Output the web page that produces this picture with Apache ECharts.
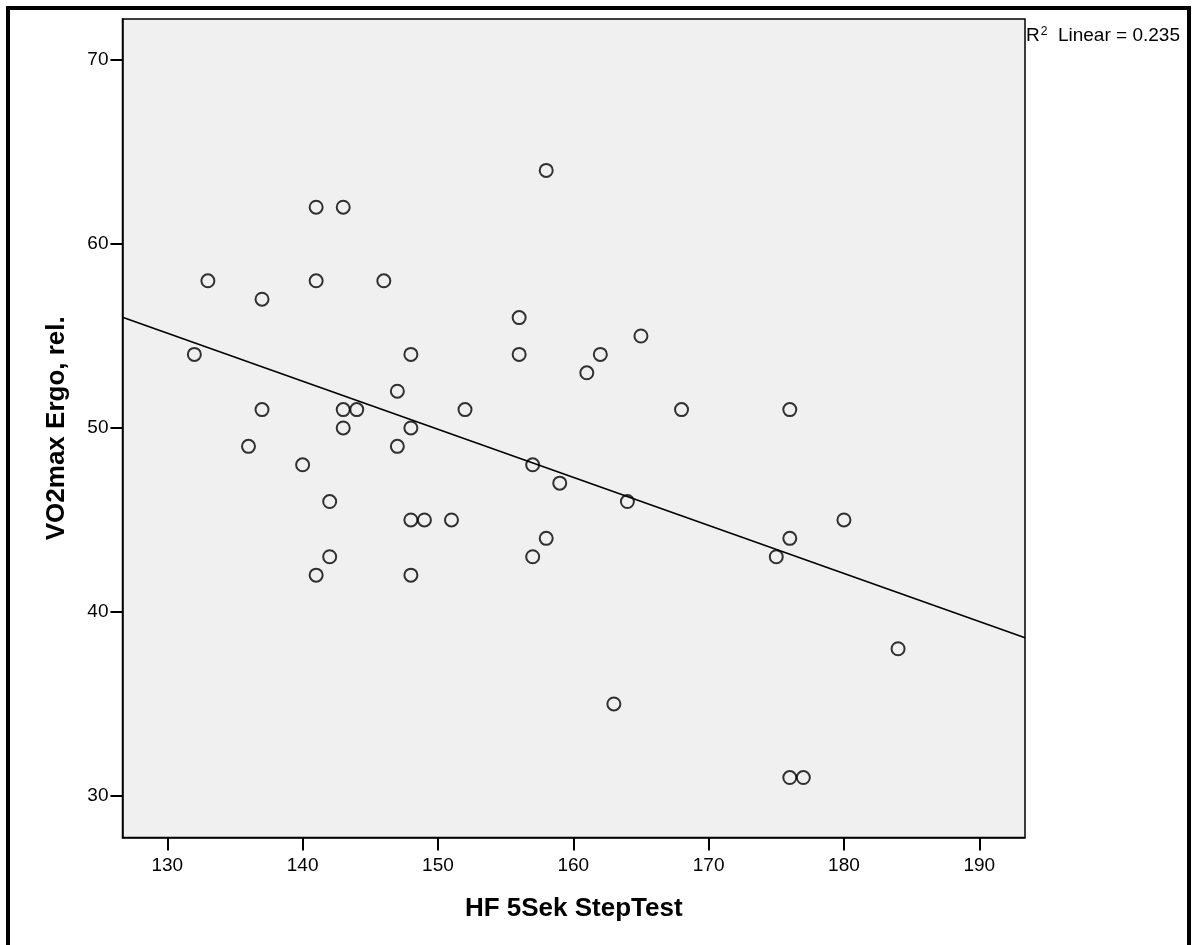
<!DOCTYPE html>
<html>
<head>
<meta charset="utf-8">
<script src="https://cdn.jsdelivr.net/npm/echarts@6/dist/echarts.min.js"></script>
<style>
html,body{margin:0;padding:0;background:#fff;}
#chart{width:1192px;height:945px;}
</style>
</head>
<body>
<div id="chart"></div>
<script>
// HF 5Sek StepTest (x) vs VO2max Ergo, rel. (y)
const hfValues = [141,143,133,141,146,137,132,148,147,137,143,144,152,143,148,136,147,140,142,148,149,151,142,141,148,
                  158,156,156,162,165,161,168,176,157,159,164,158,157,163,176,175,184,176,177,180];
const vo2Values = [62,62,58,58,58,57,54,54,52,51,51,51,51,50,50,49,49,48,46,45,45,45,43,42,42,
                   64,56,54,54,55,53,51,51,48,47,46,44,43,35,44,43,38,31,31,45];
const xTicks = [130,140,150,160,170,180,190];
const yTicks = [30,40,50,60,70];
const xRange = [126.69, 193.38];
const yRange = [27.74, 72.23];
const r2Label = '0.235';

const points = hfValues.map((x, i) => [x, vo2Values[i]]);
// least squares fit
const n = points.length;
const mx = hfValues.reduce((a, b) => a + b, 0) / n;
const my = vo2Values.reduce((a, b) => a + b, 0) / n;
let sxy = 0, sxx = 0;
for (let i = 0; i < n; i++) { sxy += (hfValues[i] - mx) * (vo2Values[i] - my); sxx += (hfValues[i] - mx) ** 2; }
const slope = sxy / sxx, icpt = my - slope * mx;
const fitLine = xRange.map(x => [x, icpt + slope * x]);

const FONT = '"Liberation Sans", Arial, sans-serif';
const chart = echarts.init(document.getElementById('chart'), null, {renderer: 'canvas'});
chart.setOption({
  animation: false,
  backgroundColor: '#ffffff',
  grid: {
    left: 122.5, top: 19, right: 167, bottom: 107.5,
    show: true, backgroundColor: '#f0f0f0', borderColor: '#000', borderWidth: 1.5
  },
  xAxis: {
    type: 'value', min: xRange[0], max: xRange[1],
    name: 'HF 5Sek StepTest', nameLocation: 'middle', nameGap: 58,
    nameTextStyle: {fontFamily: FONT, fontWeight: 'bold', fontSize: 26, color: '#000'},
    axisLine: {show: true, onZero: false, lineStyle: {color: '#000', width: 1.5}},
    axisTick: {show: true, inside: false, length: 13, lineStyle: {color: '#000', width: 2}, customValues: xTicks},
    axisLabel: {fontFamily: FONT, fontSize: 19, color: '#000', margin: 19, customValues: xTicks},
    splitLine: {show: false}
  },
  yAxis: {
    type: 'value', min: yRange[0], max: yRange[1],
    name: 'VO2max Ergo, rel.', nameLocation: 'middle', nameGap: 53,
    nameTextStyle: {fontFamily: FONT, fontWeight: 'bold', fontSize: 26, color: '#000'},
    axisLine: {show: true, onZero: false, lineStyle: {color: '#000', width: 1.5}},
    axisTick: {show: true, inside: false, length: 12, lineStyle: {color: '#000', width: 2}, customValues: yTicks},
    axisLabel: {fontFamily: FONT, fontSize: 19, color: '#000', margin: 14, customValues: yTicks},
    splitLine: {show: false}
  },
  graphic: [
    {type: 'rect', shape: {x: 8, y: 8, width: 1181, height: 960}, style: {fill: 'none', stroke: '#000', lineWidth: 4}, silent: true, z: 100},
    {type: 'text', left: 1026, top: 26, style: {
      text: '{r|R}{s|2}{r|  Linear = ' + r2Label + '}',
      rich: {
        r: {fontFamily: FONT, fontSize: 19, fill: '#000', verticalAlign: 'bottom'},
        s: {fontFamily: FONT, fontSize: 12, fill: '#000', verticalAlign: 'top', padding: [0,0,7,1]}
      }
    }, z: 100}
  ],
  series: [
    {
      type: 'line', data: fitLine, showSymbol: false, symbol: 'none',
      lineStyle: {color: '#000', width: 1.6}, silent: true, z: 2
    },
    {
      type: 'scatter', data: points, symbol: 'circle', symbolSize: 13,
      itemStyle: {color: 'rgba(0,0,0,0)', borderColor: '#000', borderWidth: 2}, z: 3
    }
  ]
});
</script>
</body>
</html>
